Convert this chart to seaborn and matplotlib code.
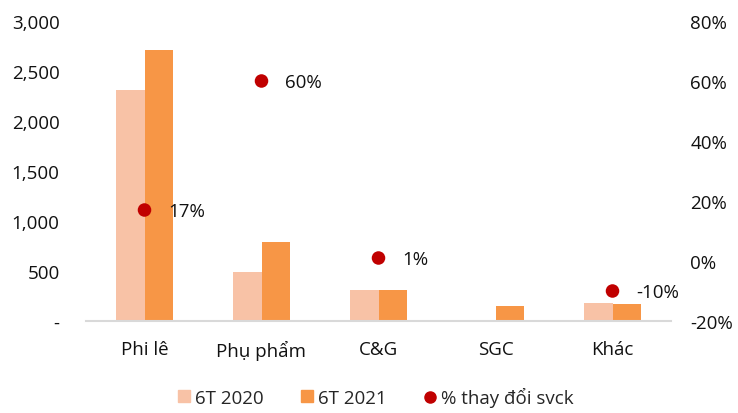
import matplotlib
matplotlib.use("Agg")
import matplotlib.pyplot as plt
import seaborn as sns
import pandas as pd
import numpy as np
from matplotlib.lines import Line2D
from matplotlib.patches import Patch

categories = ["Phi lê", "Phụ phẩm", "C&G", "SGC", "Khác"]
v2020 = [2310, 490, 310, 0, 185]
v2021 = [2715, 790, 315, 150, 170]
pct = [17, 60, 1, None, -10]
pct_labels = ["17%", "60%", "1%", "", "-10%"]
series = ["6T 2020", "6T 2021"]
left_ticks = [0, 500, 1000, 1500, 2000, 2500, 3000]
left_labels = ["-", "500", "1,000", "1,500", "2,000", "2,500", "3,000"]
right_ticks = [-20, 0, 20, 40, 60, 80]

sns.set_theme(style="white")
plt.rcParams['font.family'] = ['Open Sans', 'DejaVu Sans']
FS = 13.5
TXT = "#111111"

df = pd.DataFrame({
    "cat": categories * 2,
    "series": [series[0]] * 5 + [series[1]] * 5,
    "value": v2020 + v2021,
})

fig = plt.figure(figsize=(7.38, 4.14), dpi=100)
ax = fig.add_axes([86/738, 1-322/414, 585/738, 300/414])
pal = {"6T 2020": "#F8C2A6", "6T 2021": "#F79646"}
sns.barplot(data=df, x="cat", y="value", hue="series", palette=pal, width=0.48,
            saturation=1, ax=ax, legend=False, linewidth=0)
ax.set_ylim(0, 3000)
ax.set_xlim(-0.5, 4.5)
ax.set_yticks(left_ticks)
ax.set_yticklabels(left_labels)
ax.set_xlabel("")
ax.set_ylabel("")
for s in ["top", "right", "left"]:
    ax.spines[s].set_visible(False)
ax.spines["bottom"].set_color("#D9D9D9")
ax.spines["bottom"].set_linewidth(1.5)
ax.tick_params(axis="y", length=0, labelsize=FS, colors=TXT, pad=19)
ax.tick_params(axis="x", length=0, labelsize=FS, colors=TXT, pad=14)

ax2 = ax.twinx()
pdf = pd.DataFrame({"x": np.arange(len(categories)), "p": pct}).dropna()
sns.scatterplot(data=pdf, x="x", y="p", ax=ax2, color="#C00000", s=95,
                edgecolor="none", zorder=5, legend=False)
ax2.set_ylim(-20, 80)
ax2.set_xlim(-0.5, 4.5)
ax2.set_yticks(right_ticks)
ax2.set_yticklabels([f"{t}%" for t in right_ticks])
ax2.set_ylabel("")
ax2.set_xlabel("")
for s in ["top", "right", "left", "bottom"]:
    ax2.spines[s].set_visible(False)
ax2.tick_params(axis="y", length=0, labelsize=FS, colors=TXT, pad=14)
for i, (p, lab) in enumerate(zip(pct, pct_labels)):
    if p is None:
        continue
    ax2.annotate(lab, (i, p), xytext=(17, -1), textcoords="offset points",
                 va="center", ha="left", fontsize=FS, color=TXT)

handles = [Patch(color=pal["6T 2020"], label="6T 2020"),
           Patch(color=pal["6T 2021"], label="6T 2021"),
           Line2D([], [], marker="o", color="#C00000", linestyle="none",
                  markersize=8, label="% thay đổi svck")]
fig.legend(handles=handles, loc="center", bbox_to_anchor=(376/738, 1-398/414),
           ncol=3, frameon=False, fontsize=FS, handlelength=0.6, handleheight=0.6,
           handletextpad=0.3, columnspacing=2.0)

fig.savefig("out.png", dpi=100)
